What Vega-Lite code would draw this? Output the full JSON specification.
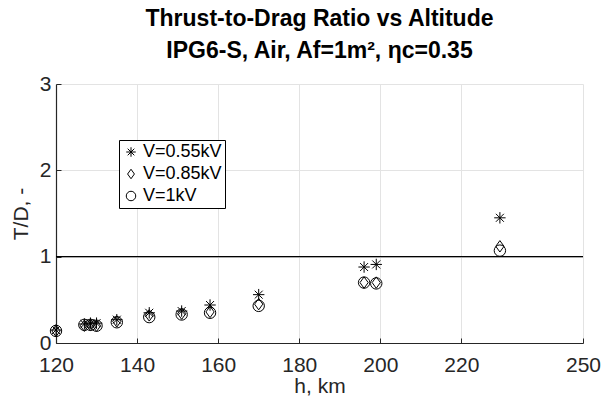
{
  "$schema": "https://vega.github.io/schema/vega-lite/v6.json",
  "autosize": "none",
  "width": 527,
  "height": 259,
  "padding": {"left": 56, "top": 84, "right": 20, "bottom": 59},
  "background": "white",
  "title": {
    "text": ["Thrust-to-Drag Ratio vs Altitude", "IPG6-S, Air, Af=1m², ηc=0.35"],
    "font": "Liberation Sans",
    "fontSize": 23,
    "fontWeight": "bold",
    "color": "black",
    "lineHeight": 32,
    "offset": 10,
    "anchor": "middle"
  },
  "config": {
    "view": {"stroke": null},
    "font": "Liberation Sans"
  },
  "datasets": {
    "pts": [
      {"h": 120, "td": 0.15, "series": "V=0.55kV"},
      {"h": 127, "td": 0.22, "series": "V=0.55kV"},
      {"h": 128.5, "td": 0.23, "series": "V=0.55kV"},
      {"h": 130, "td": 0.23, "series": "V=0.55kV"},
      {"h": 135, "td": 0.27, "series": "V=0.55kV"},
      {"h": 143, "td": 0.35, "series": "V=0.55kV"},
      {"h": 151, "td": 0.37, "series": "V=0.55kV"},
      {"h": 158, "td": 0.44, "series": "V=0.55kV"},
      {"h": 170, "td": 0.56, "series": "V=0.55kV"},
      {"h": 196, "td": 0.88, "series": "V=0.55kV"},
      {"h": 199, "td": 0.91, "series": "V=0.55kV"},
      {"h": 229.5, "td": 1.45, "series": "V=0.55kV"},
      {"h": 120, "td": 0.14, "series": "V=0.85kV"},
      {"h": 127, "td": 0.2, "series": "V=0.85kV"},
      {"h": 128.5, "td": 0.21, "series": "V=0.85kV"},
      {"h": 130, "td": 0.2, "series": "V=0.85kV"},
      {"h": 135, "td": 0.25, "series": "V=0.85kV"},
      {"h": 143, "td": 0.32, "series": "V=0.85kV"},
      {"h": 151, "td": 0.34, "series": "V=0.85kV"},
      {"h": 158, "td": 0.36, "series": "V=0.85kV"},
      {"h": 170, "td": 0.45, "series": "V=0.85kV"},
      {"h": 196, "td": 0.7, "series": "V=0.85kV"},
      {"h": 199, "td": 0.7, "series": "V=0.85kV"},
      {"h": 229.5, "td": 1.12, "series": "V=0.85kV"},
      {"h": 120, "td": 0.14, "series": "V=1kV"},
      {"h": 127, "td": 0.21, "series": "V=1kV"},
      {"h": 128.5, "td": 0.21, "series": "V=1kV"},
      {"h": 130, "td": 0.2, "series": "V=1kV"},
      {"h": 135, "td": 0.24, "series": "V=1kV"},
      {"h": 143, "td": 0.3, "series": "V=1kV"},
      {"h": 151, "td": 0.33, "series": "V=1kV"},
      {"h": 158, "td": 0.35, "series": "V=1kV"},
      {"h": 170, "td": 0.43, "series": "V=1kV"},
      {"h": 196, "td": 0.7, "series": "V=1kV"},
      {"h": 199, "td": 0.69, "series": "V=1kV"},
      {"h": 229.5, "td": 1.07, "series": "V=1kV"}
    ],
    "ref": [{"td": 1}]
  },
  "layer": [
    {
      "data": {"name": "ref"},
      "mark": {"type": "rule", "color": "black", "strokeWidth": 1.3},
      "encoding": {
        "y": {"field": "td", "type": "quantitative", "scale": {"domain": [0, 3]}}
      }
    },
    {
      "data": {"name": "pts"},
      "mark": {"type": "point", "filled": false, "stroke": "black", "strokeWidth": 1, "size": 130, "opacity": 1},
      "encoding": {
        "x": {
          "field": "h", "type": "quantitative",
          "scale": {"domain": [120, 250], "nice": false, "zero": false},
          "axis": {
            "title": "h, km",
            "values": [120, 140, 160, 180, 200, 220, 250],
            "labelFlush": false,
            "grid": true, "gridColor": "#e3e3e3",
            "domainColor": "#262626", "domainWidth": 1.2,
            "tickColor": "#262626", "tickSize": -5,
            "labelColor": "#262626", "labelFontSize": 21, "labelPadding": 16,
            "titleColor": "#262626", "titleFontSize": 21, "titleFontWeight": "normal", "titlePadding": 0
          }
        },
        "y": {
          "field": "td", "type": "quantitative",
          "scale": {"domain": [0, 3], "nice": false},
          "axis": {
            "title": "T/D, -",
            "values": [0, 1, 2, 3],
            "format": "d",
            "labelFlush": false,
            "grid": true, "gridColor": "#e3e3e3",
            "domainColor": "#262626", "domainWidth": 1.2,
            "tickColor": "#262626", "tickSize": -5,
            "labelColor": "#262626", "labelFontSize": 21, "labelPadding": 10,
            "titleColor": "#262626", "titleFontSize": 21, "titleFontWeight": "normal", "titlePadding": 8
          }
        },
        "shape": {
          "field": "series", "type": "nominal",
          "scale": {
            "domain": ["V=0.55kV", "V=0.85kV", "V=1kV"],
            "range": [
              "M0,-1L0,1M-1,0L1,0M-0.7,-0.7L0.7,0.7M-0.7,0.7L0.7,-0.7",
              "M0,-1L0.72,0L0,1L-0.72,0Z",
              "circle"
            ]
          },
          "legend": {
            "orient": "none", "legendX": 63, "legendY": 56,
            "title": null,
            "strokeColor": "black", "fillColor": "white",
            "padding": 3,
            "labelFontSize": 18, "labelColor": "black", "labelFont": "Liberation Sans",
            "symbolSize": 90, "symbolStrokeColor": "black", "symbolFillColor": "transparent", "symbolStrokeWidth": 1,
            "rowPadding": 4, "labelOffset": 3
          }
        }
      }
    }
  ]
}
